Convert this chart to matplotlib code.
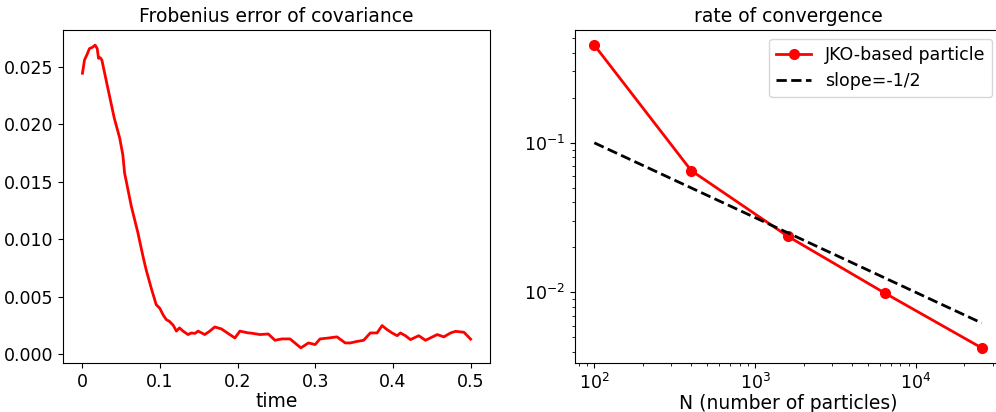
import numpy as np
import matplotlib
matplotlib.use("Agg")
import matplotlib.pyplot as plt

# left panel: Frobenius error of covariance over time
time = [0.0, 0.0026, 0.006, 0.009, 0.0125, 0.0164, 0.019, 0.0207, 0.023, 0.025,
        0.0327, 0.041, 0.048, 0.052, 0.0543, 0.063, 0.0715, 0.078, 0.082, 0.0888,
        0.095, 0.0995, 0.104, 0.108, 0.112, 0.117, 0.121, 0.125, 0.1296, 0.136,
        0.1404, 0.145, 0.149, 0.1576, 0.164, 0.1705, 0.179, 0.188, 0.1964, 0.2028,
        0.2136, 0.2158, 0.2287, 0.2394, 0.248, 0.2567, 0.2674, 0.2813, 0.2911, 0.2997,
        0.306, 0.317, 0.3278, 0.3385, 0.345, 0.3536, 0.3622, 0.3708, 0.3795, 0.386,
        0.3924, 0.3989, 0.4053, 0.4096, 0.416, 0.4225, 0.4332, 0.4419, 0.457, 0.4655,
        0.4742, 0.4806, 0.4914, 0.5]
frob_err = [0.02445, 0.0256, 0.0261, 0.0266, 0.0267, 0.0269, 0.0266, 0.02575, 0.0258, 0.0256,
            0.02315, 0.02054, 0.0188, 0.01735, 0.01576, 0.01285, 0.01054, 0.0085, 0.00735, 0.0057,
            0.0043, 0.0040, 0.0034, 0.0030, 0.00285, 0.0025, 0.0020, 0.00228, 0.0020, 0.0017,
            0.00184, 0.0018, 0.0020, 0.0017, 0.0020, 0.00236, 0.00219, 0.00178, 0.0014, 0.0020,
            0.00184, 0.00184, 0.0017, 0.00175, 0.0012, 0.00132, 0.00132, 0.00054, 0.00097, 0.00083,
            0.00132, 0.0014, 0.0015, 0.00097, 0.00097, 0.0011, 0.0012, 0.00184, 0.00184, 0.00248,
            0.00213, 0.00184, 0.0016, 0.00184, 0.0016, 0.00126, 0.0016, 0.0012, 0.0017, 0.0015,
            0.00184, 0.00198, 0.0019, 0.0013]

# right panel: convergence vs number of particles
N = [100, 400, 1600, 6400, 25600]
err_N = [0.45, 0.0653, 0.0237, 0.0099, 0.00426]
slope_ref = [0.1 * (100 / n) ** 0.5 for n in N]

fs = 12.5   # tick labels
fs_big = 13.5  # titles, axis labels
fig = plt.figure(figsize=(9.96, 4.12), dpi=100)
ax1 = fig.add_axes([0.0633, 0.1189, 0.4287, 0.8083])
ax2 = fig.add_axes([0.5773, 0.1189, 0.4277, 0.8083])

ax1.plot(time, frob_err, color='red', lw=2)
ax1.set_title('Frobenius error of covariance', fontsize=fs_big)
ax1.set_xlabel('time', fontsize=fs_big, labelpad=1)
ax1.set_xticks([0, 0.1, 0.2, 0.3, 0.4, 0.5])
ax1.set_xticklabels(['0', '0.1', '0.2', '0.3', '0.4', '0.5'])
ax1.tick_params(labelsize=fs)

ax2.loglog(N, err_N, 'o-', color='red', lw=2, ms=7, label='JKO-based particle')
ax2.loglog(N, slope_ref, '--', color='black', lw=2, label='slope=-1/2')
ax2.set_title('rate of convergence', fontsize=fs_big)
ax2.set_xlabel('N (number of particles)', fontsize=fs_big, labelpad=1)
ax2.tick_params(labelsize=fs)
ax2.legend(fontsize=12.5, loc='upper right')

fig.savefig('out.png', dpi=100)
